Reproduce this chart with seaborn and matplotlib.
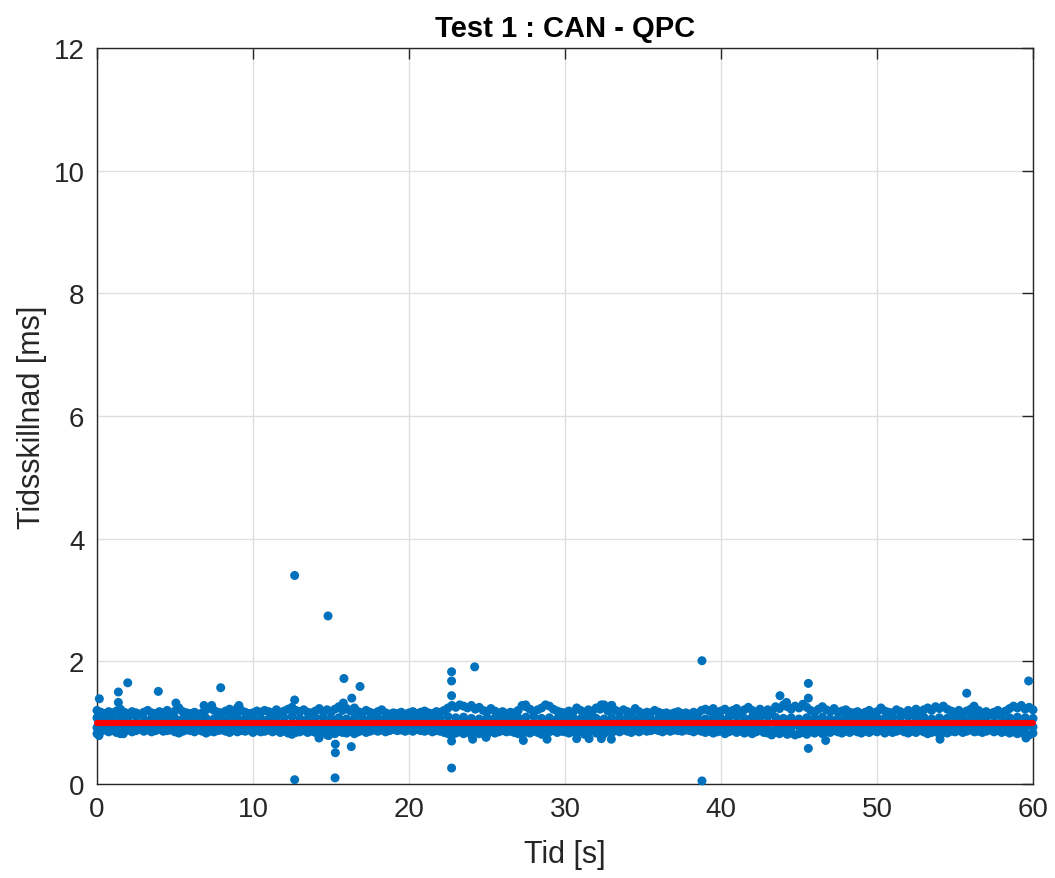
import numpy as np
import pandas as pd
import matplotlib
matplotlib.use("Agg")
import matplotlib.pyplot as plt
import seaborn as sns

# ---------------- data ----------------
title = "Test 1 : CAN - QPC"
xlabel = "Tid [s]"
ylabel = "Tidsskillnad [ms]"
x_ticks = [0, 10, 20, 30, 40, 50, 60]
y_ticks = [0, 2, 4, 6, 8, 10, 12]

# sampling grids of the dense band (every 0.25 s and every 0.5 s)
t_fine = np.arange(241) * 0.25
t_coarse = np.arange(121) * 0.5

# upper edge of the dense band, one value per 0.25 s
band_upper = [
    1.20, 1.17, 1.15, 1.18, 1.16, 1.19, 1.22, 1.17, 1.15, 1.18, 1.16, 1.14,
    1.17, 1.20, 1.16, 1.15, 1.18, 1.16, 1.20, 1.15, 1.19, 1.24, 1.18, 1.16,
    1.15, 1.17, 1.14, 1.16, 1.21, 1.24, 1.20, 1.17, 1.16, 1.19, 1.22, 1.18,
    1.24, 1.20, 1.17, 1.15, 1.16, 1.19, 1.17, 1.20, 1.18, 1.16, 1.21, 1.17,
    1.19, 1.22, 1.25, 1.20, 1.18, 1.21, 1.17, 1.16, 1.19, 1.23, 1.18, 1.21,
    1.17, 1.22, 1.26, 1.20, 1.23, 1.19, 1.24, 1.18, 1.16, 1.20, 1.17, 1.15,
    1.18, 1.21, 1.16, 1.14, 1.16, 1.15, 1.17, 1.14, 1.16, 1.18, 1.15, 1.17,
    1.19, 1.16, 1.15, 1.18, 1.17, 1.20, 1.24, 1.28, 1.25, 1.29, 1.27, 1.24,
    1.28, 1.22, 1.25, 1.20, 1.18, 1.23, 1.19, 1.16, 1.18, 1.15, 1.17, 1.16,
    1.20, 1.28, 1.26, 1.22, 1.18, 1.21, 1.24, 1.29, 1.27, 1.22, 1.19, 1.17,
    1.16, 1.19, 1.17, 1.24, 1.20, 1.17, 1.21, 1.18, 1.24, 1.22, 1.29, 1.19,
    1.28, 1.20, 1.17, 1.21, 1.18, 1.16, 1.23, 1.18, 1.15, 1.17, 1.16, 1.20,
    1.17, 1.15, 1.16, 1.14, 1.16, 1.18, 1.15, 1.16, 1.14, 1.17, 1.15, 1.20,
    1.22, 1.19, 1.23, 1.17, 1.19, 1.22, 1.17, 1.20, 1.23, 1.18, 1.21, 1.25,
    1.20, 1.17, 1.22, 1.18, 1.21, 1.19, 1.26, 1.23, 1.29, 1.26, 1.22, 1.27,
    1.24, 1.30, 1.25, 1.20, 1.17, 1.22, 1.26, 1.21, 1.18, 1.23, 1.17, 1.19,
    1.21, 1.17, 1.16, 1.18, 1.15, 1.17, 1.20, 1.16, 1.18, 1.24, 1.19, 1.17,
    1.16, 1.21, 1.18, 1.15, 1.20, 1.17, 1.22, 1.18, 1.21, 1.24, 1.20, 1.26,
    1.23, 1.27, 1.22, 1.19, 1.17, 1.20, 1.16, 1.19, 1.22, 1.18, 1.20, 1.16,
    1.18, 1.15, 1.17, 1.20, 1.16, 1.19, 1.23, 1.27, 1.24, 1.28, 1.22, 1.25,
    1.21,
]

# lower edge of the dense band, one value per 0.25 s
band_lower = [
    0.82, 0.86, 0.88, 0.85, 0.87, 0.84, 0.82, 0.86, 0.88, 0.85, 0.87, 0.89,
    0.86, 0.88, 0.85, 0.87, 0.89, 0.86, 0.87, 0.88, 0.85, 0.83, 0.86, 0.88,
    0.87, 0.85, 0.88, 0.86, 0.83, 0.86, 0.85, 0.87, 0.88, 0.86, 0.84, 0.87,
    0.85, 0.87, 0.86, 0.88, 0.84, 0.87, 0.85, 0.86, 0.88, 0.85, 0.87, 0.84,
    0.86, 0.83, 0.81, 0.84, 0.85, 0.87, 0.84, 0.86, 0.84, 0.82, 0.86, 0.80,
    0.85, 0.82, 0.86, 0.84, 0.83, 0.86, 0.82, 0.85, 0.87, 0.84, 0.86, 0.88,
    0.86, 0.88, 0.85, 0.87, 0.89, 0.87, 0.88, 0.86, 0.88, 0.86, 0.89, 0.87,
    0.86, 0.88, 0.85, 0.87, 0.86, 0.84, 0.82, 0.80, 0.83, 0.85, 0.82, 0.86,
    0.80, 0.84, 0.82, 0.85, 0.81, 0.86, 0.83, 0.85, 0.87, 0.85, 0.86, 0.84,
    0.82, 0.80, 0.85, 0.83, 0.86, 0.84, 0.81, 0.83, 0.85, 0.87, 0.84, 0.86,
    0.85, 0.83, 0.86, 0.84, 0.86, 0.81, 0.84, 0.87, 0.83, 0.85, 0.82, 0.86,
    0.84, 0.87, 0.85, 0.88, 0.86, 0.84, 0.87, 0.85, 0.88, 0.86, 0.87, 0.89,
    0.87, 0.85, 0.88, 0.86, 0.88, 0.87, 0.86, 0.88, 0.87, 0.85, 0.88, 0.86,
    0.84, 0.86, 0.83, 0.85, 0.86, 0.82, 0.85, 0.87, 0.84, 0.86, 0.83, 0.85,
    0.82, 0.85, 0.87, 0.84, 0.83, 0.80, 0.84, 0.82, 0.85, 0.81, 0.83, 0.80,
    0.82, 0.84, 0.81, 0.85, 0.83, 0.86, 0.82, 0.85, 0.84, 0.87, 0.85, 0.83,
    0.86, 0.84, 0.87, 0.85, 0.83, 0.86, 0.84, 0.87, 0.85, 0.87, 0.83, 0.86,
    0.84, 0.86, 0.88, 0.85, 0.83, 0.86, 0.84, 0.87, 0.85, 0.82, 0.84, 0.86,
    0.81, 0.84, 0.83, 0.86, 0.85, 0.87, 0.84, 0.86, 0.88, 0.85, 0.86, 0.84,
    0.86, 0.88, 0.85, 0.87, 0.84, 0.86, 0.83, 0.85, 0.82, 0.84, 0.81, 0.80,
    0.83,
]

# inner rows of the dense band, one value per 0.5 s
band_upper_inner = [
    1.08, 1.06, 1.09, 1.07, 1.08, 1.10, 1.06, 1.07, 1.09, 1.08,
    1.07, 1.06, 1.08, 1.09, 1.07, 1.06, 1.08, 1.07, 1.09, 1.06,
    1.08, 1.07, 1.06, 1.09, 1.08, 1.10, 1.07, 1.06, 1.08, 1.09,
    1.07, 1.08, 1.06, 1.07, 1.09, 1.06, 1.08, 1.07, 1.06, 1.08,
    1.07, 1.09, 1.06, 1.08, 1.07, 1.10, 1.08, 1.09, 1.07, 1.06,
    1.08, 1.07, 1.09, 1.06, 1.08, 1.09, 1.10, 1.07, 1.08, 1.06,
    1.07, 1.09, 1.06, 1.08, 1.07, 1.06, 1.08, 1.07, 1.09, 1.06,
    1.08, 1.06, 1.07, 1.09, 1.08, 1.06, 1.07, 1.08, 1.06, 1.09,
    1.07, 1.08, 1.10, 1.07, 1.09, 1.08, 1.10, 1.09, 1.07, 1.08,
    1.06, 1.08, 1.07, 1.09, 1.06, 1.07, 1.08, 1.06, 1.09, 1.07,
    1.08, 1.07, 1.09, 1.08, 1.10, 1.07, 1.09, 1.06, 1.08, 1.07,
    1.09, 1.08, 1.07, 1.09, 1.08, 1.10, 1.07, 1.08, 1.09, 1.08,
    1.07,
]
band_lower_inner = [
    0.92, 0.94, 0.91, 0.93, 0.92, 0.90, 0.94, 0.93, 0.91, 0.92,
    0.93, 0.94, 0.92, 0.91, 0.93, 0.94, 0.92, 0.93, 0.91, 0.94,
    0.92, 0.93, 0.94, 0.91, 0.92, 0.90, 0.93, 0.94, 0.92, 0.91,
    0.93, 0.92, 0.94, 0.93, 0.91, 0.94, 0.92, 0.93, 0.94, 0.92,
    0.93, 0.91, 0.94, 0.92, 0.93, 0.90, 0.92, 0.91, 0.93, 0.94,
    0.92, 0.93, 0.91, 0.94, 0.92, 0.91, 0.90, 0.93, 0.92, 0.94,
    0.93, 0.91, 0.94, 0.92, 0.93, 0.94, 0.92, 0.93, 0.91, 0.94,
    0.92, 0.94, 0.93, 0.91, 0.92, 0.94, 0.93, 0.92, 0.94, 0.91,
    0.93, 0.92, 0.90, 0.93, 0.91, 0.92, 0.90, 0.91, 0.93, 0.92,
    0.94, 0.92, 0.93, 0.91, 0.94, 0.93, 0.92, 0.94, 0.91, 0.93,
    0.92, 0.93, 0.91, 0.92, 0.90, 0.93, 0.91, 0.94, 0.92, 0.93,
    0.91, 0.92, 0.93, 0.91, 0.92, 0.90, 0.93, 0.92, 0.91, 0.92,
    0.93,
]

# isolated points outside the band
outlier_t = [0.15, 1.37, 1.97, 1.37, 3.93, 5.06, 6.86, 7.35, 7.93, 9.10,
             12.67, 12.67, 14.81, 15.83, 16.86, 16.33, 15.79, 0.13, 1.69, 14.23,
             14.85, 15.28, 15.28, 16.30, 12.67, 15.26, 22.73, 22.73, 22.73, 24.21,
             22.73, 22.73, 38.78, 38.78, 24.08, 24.94, 27.33, 30.75, 31.54, 32.33,
             32.97, 32.33, 32.97, 27.48, 45.60, 45.60, 43.78, 55.75, 59.72, 56.22,
             45.60, 46.71, 59.55, 54.04, 44.20, 28.85]
outlier_y = [1.39, 1.50, 1.65, 1.33, 1.51, 1.32, 1.28, 1.28, 1.57, 1.28,
             3.40, 1.37, 2.74, 1.72, 1.59, 1.40, 1.32, 0.79, 0.82, 0.75,
             0.79, 0.65, 0.51, 0.61, 0.07, 0.10, 1.83, 1.68, 1.44, 1.91,
             0.70, 0.26, 2.01, 0.05, 0.73, 0.76, 0.71, 0.74, 0.74, 0.74,
             0.73, 1.29, 1.28, 1.29, 1.64, 1.40, 1.44, 1.48, 1.68, 1.27,
             0.58, 0.71, 0.75, 0.73, 1.33, 0.73]

# mean line
mean_t = [0, 60]
mean_y = [1.0, 1.0]

# ---------------- build frames ----------------
scatter_df = pd.DataFrame({
    "t": np.concatenate([t_fine, t_fine, t_coarse, t_coarse, outlier_t]),
    "y": np.concatenate([band_upper, band_lower, band_upper_inner,
                         band_lower_inner, outlier_y]),
})
mean_df = pd.DataFrame({"t": mean_t, "y": mean_y})

# ---------------- style ----------------
sns.set_theme(style="white")
plt.rcParams["font.family"] = ["Liberation Sans", "DejaVu Sans"]
txt = "#262626"

fig = plt.figure(figsize=(10.55, 8.79), dpi=100)
ax = fig.add_axes([97 / 1055, 1 - 785 / 879, (1033 - 97) / 1055, (785 - 49) / 879])

sns.scatterplot(data=scatter_df, x="t", y="y", ax=ax, color="#0072BD",
                s=42, edgecolor="none", linewidth=0, clip_on=False, zorder=3)
sns.lineplot(data=mean_df, x="t", y="y", ax=ax, color="#FF0000",
             linewidth=4.4, zorder=4, clip_on=False)

ax.set_xlim(0, 60)
ax.set_ylim(0, 12)
ax.set_xticks(x_ticks)
ax.set_yticks(y_ticks)
ax.set_xticklabels([str(v) for v in x_ticks])
ax.set_yticklabels([str(v) for v in y_ticks])
ax.grid(True, color="#dfdfdf", linewidth=1.0, zorder=0)
ax.set_axisbelow(True)

for s in ax.spines.values():
    s.set_visible(True)
    s.set_color(txt)
    s.set_linewidth(1.0)

ax.tick_params(axis="both", which="major", direction="in", length=8, width=1.0,
               colors=txt, labelsize=20, top=True, right=True,
               labeltop=False, labelright=False, pad=9)
ax.tick_params(axis="both", labelcolor=txt)

ax.set_xlabel(xlabel, fontsize=22, color=txt, labelpad=12)
ax.set_ylabel(ylabel, fontsize=22, color=txt, labelpad=5)
ax.set_title(title, fontsize=21, fontweight="bold", color="black", pad=9)

fig.savefig("out.png", dpi=100)
